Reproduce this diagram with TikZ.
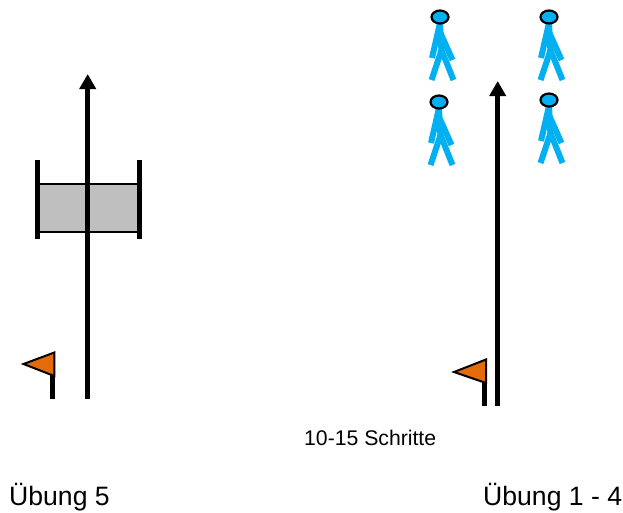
\documentclass[tikz,border=0pt]{standalone}
\usepackage{fontspec}
\setmainfont{Liberation Sans}
\definecolor{personblue}{HTML}{00B0F0}
\definecolor{flagorange}{HTML}{E36C0A}
\definecolor{matgrey}{HTML}{BFBFBF}
\tikzset{
  thickline/.style={line width=5.5pt,black},
  lane/.style={thickline,-{Triangle[length=15pt,width=16pt]},shorten >=0pt},
  flagcloth/.style={draw=black,line width=2pt,fill=flagorange,line join=miter},
  limb/.style={line width=6pt,personblue},
  headshape/.style={draw=black,line width=2.2pt,fill=personblue,ellipse,minimum width=17pt,minimum height=13pt,inner sep=0pt},
  label/.style={anchor=base west,inner sep=0pt,text=black},
  pics/walker/.style={code={
    \draw[limb] (0,6) -- (-8,41);
    \draw[limb] (0,15) -- (12.5,43);
    \draw[limb] (0,6) -- (1.5,36);
    \draw[limb] (1.5,33) -- (-8.5,63);
    \draw[limb] (1.5,33) -- (13.5,63);
    \node[headshape] at (0,0) {};
  }}
}
\usetikzlibrary{arrows.meta,shapes.geometric}
\begin{document}
\begin{tikzpicture}[x=1pt,y=-1pt]
\useasboundingbox (0,0) rectangle (623,512);
% Exercise 5
\coordinate (mattl) at (37.7,184);
\coordinate (matbr) at (139.3,232);
\draw[fill=matgrey,draw=black,line width=2pt] (mattl) rectangle (matbr);
\draw[thickline] (37.7,160) -- (37.7,239);
\draw[thickline] (139.3,160) -- (139.3,239);
\coordinate (laneAstart) at (87.7,399);
\coordinate (laneAend) at (87.7,74);
\draw[lane] (laneAstart) -- (laneAend);
\coordinate (poleAbottom) at (52.7,399);
\coordinate (poleAtop) at (52.7,370);
\draw[thickline] (poleAbottom) -- (poleAtop);
\draw[flagcloth] (23.5,364) -- (54.3,352.5) -- (54.3,376) -- cycle;
% Exercises 1-4
\coordinate (laneBstart) at (497.7,406);
\coordinate (laneBend) at (497.7,81);
\draw[lane] (laneBstart) -- (laneBend);
\coordinate (poleBbottom) at (484.3,406);
\coordinate (poleBtop) at (484.3,378);
\draw[thickline] (poleBbottom) -- (poleBtop);
\draw[flagcloth] (454,372) -- (486,359.5) -- (486,383) -- cycle;
\pic at (440,17) {walker};
\pic at (549,17) {walker};
\pic at (439,102) {walker};
\pic at (549,100) {walker};
% Labels
\node[label,font=\fontsize{21.2pt}{24pt}\selectfont] (dist) at (304,445) {10-15 Schritte};
\node[label,font=\fontsize{26.6pt}{30pt}\selectfont] (ex5) at (9,505) {Übung 5};
\node[label,font=\fontsize{26.6pt}{30pt}\selectfont] (ex14) at (483,505) {Übung 1 - 4};
\end{tikzpicture}
\end{document}
